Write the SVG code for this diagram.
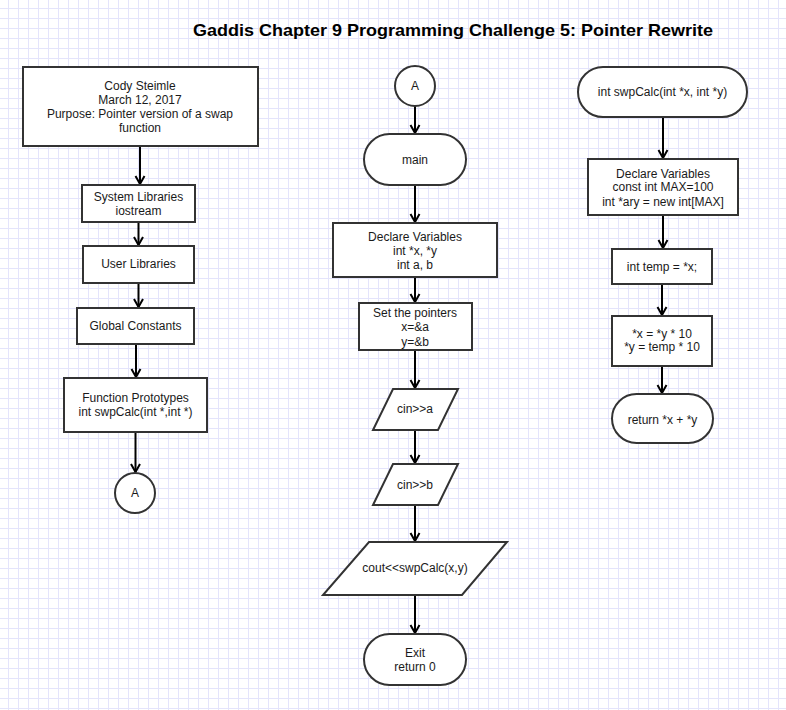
<svg xmlns="http://www.w3.org/2000/svg" width="786" height="710" viewBox="0 0 786 710">
<defs>
<pattern id="grid" x="8" y="8" width="10" height="10" patternUnits="userSpaceOnUse">
<path d="M0,0.5 H10 M0.5,0 V10" stroke="#e4e4fb" stroke-width="1" fill="none"/>
</pattern>
<marker id="arr" viewBox="0 0 12 12" markerWidth="12" markerHeight="12" refX="10" refY="6" orient="auto" markerUnits="userSpaceOnUse">
<path d="M2,1.5 L10,6 L2,10.5" fill="none" stroke="#000" stroke-width="2"/>
</marker>
<style>
.s{fill:#fff;stroke:#333;stroke-width:2}
.t{font-family:"Liberation Sans",Arial,sans-serif;font-size:12px;fill:#1a1a1a;text-anchor:middle}
.c line{stroke:#000;stroke-width:2;marker-end:url(#arr)}
</style>
</defs>
<rect width="786" height="710" fill="#fff"/>
<rect width="786" height="710" fill="url(#grid)"/>
<text x="193" y="36" font-family="'Liberation Sans',Arial,sans-serif" font-size="17" font-weight="bold" fill="#000" textLength="520" lengthAdjust="spacingAndGlyphs">Gaddis Chapter 9 Programming Challenge 5: Pointer Rewrite</text>

<g class="c" id="connectors">
<line x1="140" y1="146" x2="140" y2="184"/>
<line x1="138.5" y1="222" x2="138.5" y2="245"/>
<line x1="138.5" y1="283" x2="138.5" y2="307"/>
<line x1="136" y1="344" x2="136" y2="377"/>
<line x1="135.5" y1="432" x2="135.5" y2="472"/>
<line x1="415" y1="106" x2="415" y2="133"/>
<line x1="415" y1="185" x2="415" y2="222"/>
<line x1="415" y1="277" x2="415" y2="302"/>
<line x1="415" y1="350" x2="415" y2="388"/>
<line x1="415" y1="430" x2="415" y2="463"/>
<line x1="415" y1="505" x2="415" y2="541"/>
<line x1="415" y1="595" x2="415" y2="633"/>
<line x1="663" y1="117" x2="663" y2="158"/>
<line x1="663" y1="215" x2="663" y2="248"/>
<line x1="662" y1="284" x2="662" y2="315"/>
<line x1="662" y1="366" x2="662" y2="393"/>
</g>

<g id="header">
<rect class="s" x="23" y="67" width="235" height="79"/>
<text class="t" x="140" y="90">Cody Steimle</text>
<text class="t" x="140" y="104">March 12, 2017</text>
<text class="t" x="140" y="118">Purpose: Pointer version of a swap</text>
<text class="t" x="140" y="132">function</text>
</g>
<g id="syslib">
<rect class="s" x="82" y="185" width="113" height="37"/>
<text class="t" x="138.5" y="201">System Libraries</text>
<text class="t" x="138.5" y="215">iostream</text>
</g>
<g id="userlib">
<rect class="s" x="83" y="246" width="111" height="37"/>
<text class="t" x="138.5" y="268">User Libraries</text>
</g>
<g id="globals">
<rect class="s" x="77" y="308" width="117" height="36"/>
<text class="t" x="135.5" y="330">Global Constants</text>
</g>
<g id="protos">
<rect class="s" x="64" y="378" width="143" height="54"/>
<text class="t" x="135.5" y="402">Function Prototypes</text>
<text class="t" x="135.5" y="416">int swpCalc(int *,int *)</text>
</g>
<g id="connA1">
<circle class="s" cx="135" cy="493" r="20"/>
<text class="t" x="135" y="497">A</text>
</g>

<g id="connA2">
<circle class="s" cx="415" cy="86" r="20"/>
<text class="t" x="415" y="90">A</text>
</g>
<g id="main">
<rect class="s" x="364" y="134" width="102" height="51" rx="25.5"/>
<text class="t" x="415" y="164">main</text>
</g>
<g id="declare1">
<rect class="s" x="333" y="223" width="164" height="54"/>
<text class="t" x="415" y="241">Declare Variables</text>
<text class="t" x="415" y="255">int *x, *y</text>
<text class="t" x="415" y="269">int a, b</text>
</g>
<g id="setptr">
<rect class="s" x="359" y="303" width="113" height="47"/>
<text class="t" x="415" y="317">Set the pointers</text>
<text class="t" x="415" y="331">x=&amp;a</text>
<text class="t" x="415" y="346">y=&amp;b</text>
</g>
<g id="cina">
<polygon class="s" points="393,389 458,389 438,430 373,430"/>
<text class="t" x="415" y="413">cin&gt;&gt;a</text>
</g>
<g id="cinb">
<polygon class="s" points="393,464 458,464 438,505 373,505"/>
<text class="t" x="415" y="489">cin&gt;&gt;b</text>
</g>
<g id="cout">
<polygon class="s" points="369,542 507,542 462,595 323,595"/>
<text class="t" x="415" y="572">cout&lt;&lt;swpCalc(x,y)</text>
</g>
<g id="exit">
<rect class="s" x="364" y="634" width="102" height="51" rx="25.5"/>
<text class="t" x="415" y="657">Exit</text>
<text class="t" x="415" y="671">return 0</text>
</g>

<g id="swpcalc">
<rect class="s" x="578" y="67" width="169" height="50" rx="25"/>
<text class="t" x="662.5" y="96">int swpCalc(int *x, int *y)</text>
</g>
<g id="declare2">
<rect class="s" x="588" y="159" width="150" height="56"/>
<text class="t" x="663" y="178">Declare Variables</text>
<text class="t" x="663" y="191">const int MAX=100</text>
<text class="t" x="663" y="206">int *ary = new int[MAX]</text>
</g>
<g id="temp">
<rect class="s" x="612" y="249" width="100" height="35"/>
<text class="t" x="662" y="271">int temp = *x;</text>
</g>
<g id="swap">
<rect class="s" x="612" y="316" width="100" height="50"/>
<text class="t" x="662" y="338">*x = *y * 10</text>
<text class="t" x="662" y="351">*y = temp * 10</text>
</g>
<g id="ret">
<rect class="s" x="612" y="394" width="101" height="49" rx="24.5"/>
<text class="t" x="662.5" y="424">return *x + *y</text>
</g>
</svg>
